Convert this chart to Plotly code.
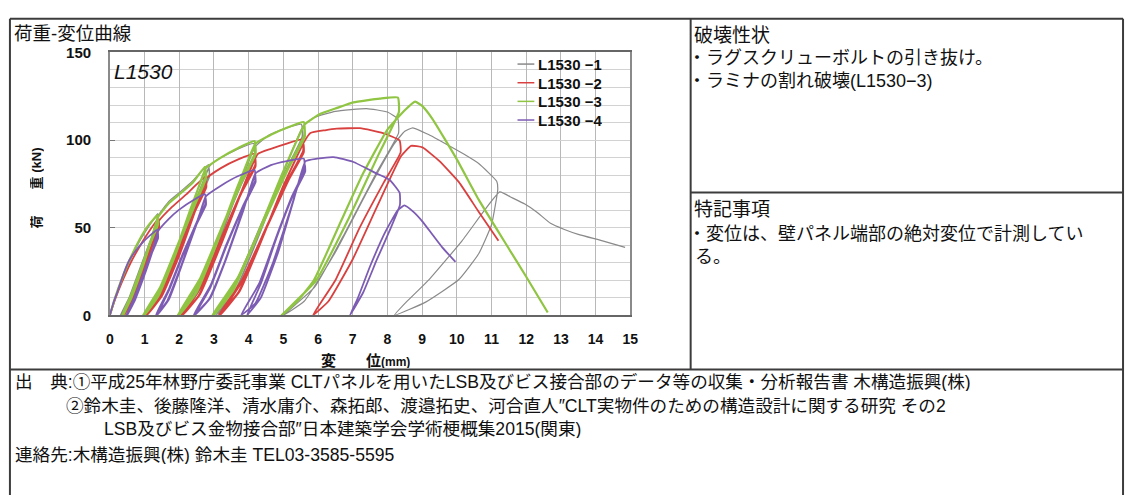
import plotly.graph_objects as go

# ---- load-displacement records (displacement mm, load kN) ----
series_names = ["L1530 −1", "L1530 −2", "L1530 −3", "L1530 −4"]

curve_1 = [
    (0, 0), (0.15, 9), (0.35, 20), (0.6, 32), (0.85, 42), (1.1, 50), (1.38, 58),
    (1.39, 54), (1.15, 42), (0.85, 26), (0.55, 10), (0.3, 0),
    (0.55, 9), (0.85, 24), (1.15, 41), (1.39, 57),
    (1.40, 53), (1.15, 41), (0.85, 25), (0.55, 9), (0.33, 0),
    (0.6, 10), (0.9, 26), (1.2, 43), (1.40, 57),
    (1.7, 65), (2.0, 70), (2.4, 77), (2.84, 86),
    (2.86, 80), (2.5, 64), (2.0, 40), (1.5, 16), (1.0, 0),
    (1.4, 10), (1.9, 34), (2.4, 62), (2.86, 84),
    (2.87, 79), (2.5, 63), (2.0, 39), (1.5, 15), (1.05, 0),
    (1.45, 11), (1.95, 35), (2.45, 64), (2.87, 85),
    (3.2, 90), (3.7, 95), (4.15, 98),
    (4.17, 92), (3.8, 76), (3.2, 48), (2.6, 20), (2.0, 0),
    (2.5, 12), (3.1, 40), (3.7, 72), (4.17, 96),
    (4.18, 91), (3.8, 75), (3.2, 47), (2.6, 19), (2.05, 0),
    (2.55, 13), (3.15, 42), (3.75, 74), (4.18, 96),
    (4.6, 103), (5.1, 107), (5.52, 109),
    (5.54, 102), (5.1, 84), (4.4, 54), (3.7, 22), (3.05, 0),
    (3.6, 14), (4.3, 46), (5.0, 82), (5.55, 107),
    (5.56, 101), (5.1, 83), (4.4, 53), (3.7, 21), (3.1, 0),
    (3.65, 15), (4.35, 48), (5.05, 84), (5.57, 108),
    (5.9, 113), (6.5, 116.4), (7.4, 118), (8.0, 116), (8.3, 112),
    (8.32, 104), (7.7, 82), (6.8, 48), (5.9, 16), (5.0, 0),
    (5.6, 8), (6.5, 36), (7.4, 70), (8.2, 98), (8.5, 105), (8.73, 107),
    (9.2, 103), (9.7, 97.6), (10.2, 92), (10.63, 86.6), (11.15, 76.5),
    (11.18, 72), (11.0, 51.7), (10.63, 35.1), (10.06, 20.4), (9.1, 7.5), (8.2, 0),
    (8.54, 7.5), (9.2, 20.4), (10.15, 42.5), (10.8, 60), (11.24, 70.4),
    (11.6, 67), (11.96, 63.5), (12.3, 59), (12.7, 52.5), (13.1, 49), (13.5, 46.2),
    (14.2, 42.5), (14.85, 38.8),
]

curve_2 = [
    (0, 0), (0.15, 9), (0.35, 19), (0.6, 30), (0.85, 39), (1.1, 47), (1.4, 55),
    (1.41, 51), (1.2, 40), (0.95, 26), (0.65, 11), (0.4, 0),
    (0.65, 9), (0.95, 24), (1.2, 39), (1.41, 54),
    (1.42, 50), (1.2, 39), (0.95, 25), (0.65, 10), (0.42, 0),
    (0.68, 10), (0.98, 25), (1.23, 40), (1.42, 54),
    (1.8, 62), (2.2, 69), (2.75, 79),
    (2.77, 74), (2.45, 60), (2.0, 38), (1.5, 14), (1.02, 0),
    (1.45, 10), (1.95, 33), (2.4, 57), (2.77, 77),
    (2.78, 73), (2.45, 59), (2.0, 37), (1.5, 13), (1.07, 0),
    (1.5, 11), (2.0, 34), (2.45, 59), (2.78, 78),
    (3.2, 84), (3.7, 89), (4.17, 92.1),
    (4.19, 86), (3.8, 71), (3.25, 46), (2.65, 18), (2.05, 0),
    (2.55, 11), (3.15, 38), (3.7, 66), (4.19, 90),
    (4.2, 85), (3.8, 70), (3.25, 45), (2.65, 17), (2.1, 0),
    (2.6, 12), (3.2, 40), (3.75, 68), (4.26, 92),
    (4.64, 95), (5.1, 98), (5.55, 100.4),
    (5.57, 94), (5.15, 78), (4.5, 50), (3.8, 20), (3.13, 0),
    (3.7, 13), (4.35, 42), (5.0, 74), (5.58, 98),
    (5.59, 93), (5.15, 77), (4.5, 49), (3.8, 19), (3.18, 0),
    (3.75, 14), (4.4, 44), (5.05, 76), (5.6, 99),
    (5.78, 104), (6.2, 105.6), (6.54, 106.5), (7.21, 106.8), (7.87, 104), (8.35, 99.8),
    (8.38, 93), (7.9, 76), (7.2, 50), (6.5, 20), (5.85, 0),
    (6.3, 8), (7.0, 32), (7.7, 62), (8.4, 91), (8.68, 96.7),
    (9.01, 95.8), (9.5, 88), (10.06, 76), (10.6, 60), (11.2, 42.5),
]

curve_3 = [
    (0, 0), (0.15, 10), (0.35, 21), (0.6, 33), (0.85, 43), (1.1, 51), (1.37, 57),
    (1.38, 53), (1.15, 41), (0.9, 27), (0.6, 11), (0.35, 0),
    (0.6, 9), (0.9, 25), (1.15, 40), (1.38, 56),
    (1.39, 52), (1.15, 40), (0.9, 26), (0.6, 10), (0.38, 0),
    (0.62, 10), (0.92, 26), (1.18, 42), (1.39, 56),
    (1.7, 64), (2.0, 69), (2.4, 76), (2.74, 84.8),
    (2.76, 79), (2.45, 64), (1.95, 40), (1.45, 16), (0.95, 0),
    (1.35, 10), (1.85, 34), (2.35, 62), (2.76, 83),
    (2.77, 78), (2.45, 63), (1.95, 39), (1.45, 15), (1.0, 0),
    (1.4, 11), (1.9, 35), (2.4, 64), (2.77, 84),
    (3.2, 90), (3.7, 95.5), (4.17, 99.4),
    (4.19, 93), (3.8, 77), (3.2, 49), (2.6, 21), (1.95, 0),
    (2.45, 12), (3.05, 40), (3.65, 72), (4.19, 97),
    (4.2, 92), (3.8, 76), (3.2, 48), (2.6, 20), (2.0, 0),
    (2.5, 13), (3.1, 42), (3.7, 74), (4.2, 98),
    (4.64, 103), (5.1, 107), (5.59, 110.3),
    (5.61, 103), (5.15, 85), (4.45, 55), (3.7, 22), (2.95, 0),
    (3.5, 13), (4.25, 46), (4.95, 80), (5.6, 108),
    (5.62, 102), (5.15, 84), (4.45, 54), (3.7, 21), (3.0, 0),
    (3.55, 14), (4.3, 48), (5.0, 82), (5.62, 109),
    (6.07, 115), (6.5, 118), (7.02, 121.5), (7.78, 123.7), (8.3, 124.3),
    (8.33, 116), (7.75, 92), (6.9, 56), (5.95, 20), (4.95, 0),
    (5.4, 8), (5.88, 20), (6.6, 51), (7.3, 81), (8.0, 106), (8.5, 117), (8.8, 121.9),
    (9.0, 119.5), (9.3, 112), (10.0, 89), (10.63, 66), (11.5, 38), (12.0, 22), (12.62, 1.6),
]

curve_4 = [
    (0, 0), (0.1, 7), (0.23, 14), (0.4, 24), (0.56, 31.4), (0.75, 37), (0.94, 41.5),
    (1.15, 45.5), (1.37, 48.9),
    (1.38, 45), (1.2, 36), (0.95, 23), (0.7, 10), (0.47, 0),
    (0.7, 8), (0.95, 21), (1.2, 35), (1.38, 48),
    (1.39, 44), (1.2, 35), (0.95, 22), (0.7, 9), (0.5, 0),
    (0.73, 9), (0.98, 22), (1.22, 36), (1.39, 48),
    (1.7, 55), (1.98, 60), (2.46, 66.4), (2.74, 69.1),
    (2.76, 64), (2.5, 53), (2.1, 35), (1.7, 15), (1.32, 0),
    (1.65, 8), (2.05, 28), (2.45, 50), (2.76, 67),
    (2.77, 63), (2.5, 52), (2.1, 34), (1.7, 14), (1.36, 0),
    (1.7, 9), (2.1, 30), (2.5, 52), (2.77, 68),
    (3.2, 74), (3.7, 79.5), (4.17, 82.9),
    (4.19, 77), (3.85, 63), (3.35, 40), (2.9, 17), (2.41, 0),
    (2.85, 9), (3.3, 30), (3.8, 58), (4.19, 80),
    (4.2, 76), (3.85, 62), (3.35, 39), (2.9, 16), (2.45, 0),
    (2.9, 10), (3.35, 32), (3.85, 60), (4.2, 81),
    (4.64, 85.7), (5.1, 88), (5.59, 89.4),
    (5.61, 83), (5.25, 68), (4.8, 45), (4.3, 18), (3.78, 0),
    (4.2, 7), (4.7, 30), (5.2, 60), (5.62, 86),
    (5.63, 82), (5.25, 67), (4.8, 44), (4.35, 18), (3.95, 0),
    (4.35, 10), (4.85, 36), (5.3, 66), (5.64, 88),
    (5.97, 89.4), (6.45, 90.3), (7.02, 87.5), (7.68, 81), (8.06, 77.4), (8.35, 70),
    (8.36, 63), (8.1, 50), (7.7, 32), (7.3, 13), (6.92, 0),
    (7.15, 10), (7.5, 28), (7.95, 48), (8.3, 60), (8.49, 62.7),
    (8.75, 59), (9.01, 53.5), (9.3, 46), (9.58, 38.8), (9.96, 30.5),
]

x_ticks = list(range(0, 16))
y_ticks = [0, 50, 100, 150]

curves = [curve_1, curve_2, curve_3, curve_4]
line_colors = ["#8a8a8a", "#d8413f", "#8fc542", "#7d5cb4"]
line_widths = [1.2, 1.8, 2.2, 1.8]

W, H = 1134, 503
JP_FONT = "Liberation Sans, Noto Sans CJK JP"


def fx(p):
    return p / W


def fy(p):
    return 1 - p / H


fig = go.Figure()
for pts, col, lw, nm in zip(curves, line_colors, line_widths, series_names):
    fig.add_trace(go.Scatter(
        x=[p[0] for p in pts], y=[p[1] for p in pts], mode="lines", name=nm,
        line=dict(color=col, width=lw, shape="spline", smoothing=0.4),
        showlegend=False, hoverinfo="skip",
    ))

tick_font = dict(family="Liberation Sans, Arial", size=14, color="#111", weight="bold")

fig.update_layout(
    width=W, height=H,
    margin=dict(l=0, r=0, t=0, b=0),
    paper_bgcolor="white", plot_bgcolor="white",
    font=dict(family=JP_FONT, color="#111"),
    xaxis=dict(
        domain=[fx(107), fx(633)], range=[0, 15],
        tickvals=x_ticks, ticktext=[str(v) for v in x_ticks],
        showgrid=True, gridcolor="#b8b8b8", gridwidth=1,
        showline=True, linecolor="#666", linewidth=1.5, mirror=True,
        zeroline=False, ticks="", tickfont=tick_font, ticklabelstandoff=10,
    ),
    yaxis=dict(
        domain=[fy(317), fy(45)], range=[0, 150],
        tickvals=y_ticks, ticktext=[str(v) for v in y_ticks],
        showgrid=True, gridcolor="#d2d2d2", gridwidth=1,
        minor=dict(dtick=10, tick0=0, showgrid=True, gridcolor="#d2d2d2", ticks=""),
        showline=True, linecolor="#8a8a8a", linewidth=1.5, mirror=True,
        zeroline=False, ticks="inside", ticklen=5, tickcolor="#777",
        tickfont=dict(tick_font, size=15), ticklabelstandoff=14,
    ),
)

# ---- table frame ----
frame = [
    (6, 10, 1131, 10), (6, 10, 6, 503), (1131, 10, 1131, 503),
    (694, 10, 694, 373), (694, 190, 1131, 190), (6, 373, 1131, 373),
]
for x0, y0, x1, y1 in frame:
    fig.add_shape(type="line", xref="paper", yref="paper",
                  x0=fx(x0), y0=fy(y0), x1=fx(x1), y1=fy(y1),
                  line=dict(color="#3c3c3c", width=2))


def text(s, x, y, size=16, anchor="left", **kw):
    kw.setdefault("height", round(size * 1.1))
    fig.add_annotation(text=s, xref="paper", yref="paper", x=fx(x), y=fy(y),
                       xanchor=anchor, yanchor="middle", showarrow=False,
                       borderpad=0, valign="middle",
                       font=dict(size=size, color=kw.pop("color", "#111"),
                                 family=kw.pop("family", JP_FONT),
                                 weight=kw.pop("weight", "normal"),
                                 style=kw.pop("style", "normal")),
                       **kw)


# chart panel
text("荷重-変位曲線", 9, 25, size=18.5, height=19)
text("L1530", 110, 65, size=21, family="Liberation Sans, Arial", style="italic")
text("荷　　重 (kN)", 33, 185, size=13, anchor="center", textangle=-90, weight="bold")
text("変　　位<span style='font-size:12px'>(mm)</span>", 365, 364, size=15,
     anchor="center", weight="bold", height=15)

# legend
for i, (nm, col) in enumerate(zip(series_names, line_colors)):
    yy = 57 + 19.3 * i
    fig.add_shape(type="line", xref="paper", yref="paper",
                  x0=fx(519), x1=fx(536), y0=fy(yy), y1=fy(yy),
                  line=dict(color=col, width=1.5))
    text(nm, 539, yy, size=15, family="Liberation Sans, Arial", weight="bold")

# right panels
text("破壊性状", 696, 27, size=19)
text("・ラグスクリューボルトの引き抜け。", 690, 51, size=18)
text("・ラミナの割れ破壊(L1530−3)", 690, 75, size=18)
text("特記事項", 696, 208, size=19)
text("・変位は、壁パネル端部の絶対変位で計測してい", 690, 233, size=18)
text("る。", 697, 257, size=18)

# source notes
text("出　典:①平成25年林野庁委託事業 CLTパネルを用いたLSB及びビス接合部のデータ等の収集・分析報告書 木構造振興(株)",
     10, 386, size=17.6)
text("②鈴木圭、後藤隆洋、清水庸介、森拓郎、渡邉拓史、河合直人″CLT実物件のための構造設計に関する研究 その2",
     62, 410, size=17.6)
text("LSB及びビス金物接合部″日本建築学会学術梗概集2015(関東)", 100, 434, size=17.6)
text("連絡先:木構造振興(株) 鈴木圭 TEL03-3585-5595", 10, 461, size=17.6)

fig.write_html("out.html")
